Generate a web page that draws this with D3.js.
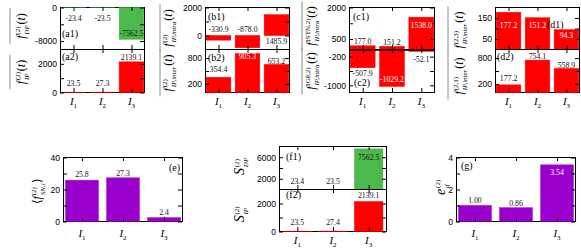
<!DOCTYPE html>
<html>
<head>
<meta charset="utf-8">
<script src="https://cdn.jsdelivr.net/npm/d3@7"></script>
<style>
  body { margin: 0; background: #fff; }
  svg { display: block; }
</style>
</head>
<body>
<svg id="fig" width="581" height="251"></svg>
<script>
// x categories: I_1, I_2, I_3
const intervals = [1, 2, 3];

// (a) time averaged fluxes
const fDP = [-23.4, -23.5, -7562.5];
const fIP = [23.5, 27.3, 2139.1];
// (b) intra / inter population
const fIPintra = [-330.9, -878.0, 1485.9];
const fIPinter = [354.4, 905.3, 653.2];
// (c) STN and GP parts
const fSTN = [177.0, 151.2, 1538.0];
const fGP = [-507.9, -1029.2, -52.1];
// (d) 2->3 and 2->1
const f23 = [177.2, 151.2, 94.3];
const f21 = [177.2, 754.1, 558.9];
// (e)
const fSN = [25.8, 27.3, 2.4];
// (f) entropy production
const sDP = [23.4, 23.5, 7562.5];
const sIP = [23.5, 27.4, 2139.1];
// (g)
const ed = [1.00, 0.86, 3.54];

// y tick positions and the ones that carry a label
const ticksA1 = [-8000, -4000, 0],   labA1 = [-8000, 0];
const ticksA2 = [0, 1000, 2000],     labA2 = [0, 2000];
const ticksB1 = [0, 1000, 2000],     labB1 = [0, 2000];
const ticksB2 = [200, 500, 800],     labB2 = [200, 800];
const ticksC1 = [500, 1250, 2000],   labC1 = [500, 2000];
const ticksC2 = [-1000, -600, -200], labC2 = [-1000, -200];
const ticksD1 = [50, 100, 150],      labD1 = [50, 150];
const ticksD2 = [200, 500, 800],     labD2 = [200, 800];
const ticksE = [0, 10, 20, 30, 40],  labE = [0, 20, 40];
const ticksF1 = [2000, 4000, 6000],  labF1 = [2000, 6000];
const ticksF2 = [0, 1000, 2000],     labF2 = [0, 2000];
const ticksG = [0, 1, 2, 3, 4],      labG = [0, 2, 4];

const GREEN = '#4cb94c', RED = '#ff0000', PURPLE = '#9900cc';
const DARK = '#111', WHITE = '#fff';
const serif = '"Liberation Serif", "Times New Roman", serif';
const sans = '"Liberation Sans", Arial, sans-serif';

const svg = d3.select('#fig');

function textWidth(str, size, style) {
  const t = svg.append('text').attr('font-family', serif)
      .attr('font-size', size).attr('font-style', style).text(str);
  const w = t.node().getComputedTextLength();
  t.remove();
  return w;
}

function subplot(c) {
  const x = d3.scaleLinear().domain(c.xDomain).range([c.left, c.right]);
  const y = d3.scaleLinear().domain(c.yDomain).range([c.bottom, c.top]);
  const bw = x(c.xDomain[0] + c.boxWidth) - x(c.xDomain[0]);
  const g = svg.append('g');

  g.append('rect')
      .attr('x', c.left).attr('y', c.top)
      .attr('width', c.right - c.left).attr('height', c.bottom - c.top)
      .attr('fill', 'none').attr('stroke', '#000');

  g.selectAll('.bar')
      .data(c.values)
    .join('rect')
      .attr('class', 'bar')
      .attr('x', (d, i) => x(intervals[i]) - bw / 2)
      .attr('width', bw)
      .attr('y', d => Math.min(y(d), y(0)))
      .attr('height', d => Math.abs(y(d) - y(0)))
      .attr('fill', c.color)
      .attr('stroke', c.color)
      .attr('stroke-width', 0.5);

  if (c.thickTop) {
    g.append('line').attr('x1', c.left).attr('x2', c.right)
        .attr('y1', c.top + 0.5).attr('y2', c.top + 0.5)
        .attr('stroke', '#000').attr('stroke-width', 1.5);
  }

  const fmt = d => c.tickLabels.includes(d) ? String(d) : '';
  const yAxisL = g.append('g').attr('transform', `translate(${c.left - 0.5},0)`)
      .call(d3.axisLeft(y).tickValues(c.ticks).tickSize(-4).tickPadding(3).tickFormat(fmt));
  yAxisL.attr('font-size', 8.6).attr('font-family', sans);
  const yAxisR = g.append('g').attr('transform', `translate(${c.right - 0.5},0)`)
      .call(d3.axisRight(y).tickValues(c.ticks).tickSize(-4).tickFormat(''));
  const xAxisB = g.append('g').attr('transform', `translate(0,${c.bottom - 0.5})`)
      .call(d3.axisBottom(x).tickValues(intervals).tickSize(-4).tickFormat(''));
  const xAxisT = g.append('g').attr('transform', `translate(0,${c.top - 0.5})`)
      .call(d3.axisTop(x).tickValues(intervals).tickSize(-4).tickFormat(''));
  [yAxisL, yAxisR, xAxisB, xAxisT].forEach(a => a.select('.domain').remove());

  // value labels
  g.selectAll('.val')
      .data(c.values)
    .join('text')
      .attr('class', 'val')
      .attr('x', (d, i) => x(intervals[i]))
      .attr('y', (d, i) => y(d) + c.labelDy[i])
      .attr('text-anchor', 'middle')
      .attr('font-family', serif)
      .attr('font-size', 7.8)
      .attr('fill', (d, i) => c.labelFill[i])
      .text(d => d.toFixed(c.digits || 1));

  // panel tag
  g.append('text')
      .attr('x', c.tag.x).attr('y', c.tag.y)
      .attr('text-anchor', c.tag.anchor || 'start')
      .attr('font-family', serif).attr('font-size', 10)
      .text(c.tag.text);

  // x tick labels I_1..I_3
  if (c.xLabels) {
    const xt = g.selectAll('.xl')
        .data(intervals)
      .join('text')
        .attr('class', 'xl')
        .attr('x', d => x(d))
        .attr('y', c.bottom + c.xLabels)
        .attr('text-anchor', 'middle')
        .attr('font-family', serif);
    xt.append('tspan').attr('font-style', 'italic').attr('font-size', 11).text('I');
    xt.append('tspan').attr('font-size', 7).attr('dy', 3).text(d => d);
  }
}

// rotated axis title like  f^{sup}_{sub}(t)
function mathLabel(s) {
  const size = s.size || 12;
  const g = svg.append('g').attr('transform', `translate(${s.x},${s.y}) rotate(-90)`);
  const t = g.append('text').attr('font-family', serif).attr('font-size', 12).attr('fill', '#000');
  if (s.pre) t.append('tspan').text(s.pre);
  t.append('tspan').attr('font-style', 'italic').attr('font-size', size).text(s.base);
  const supW = textWidth(s.sup, 7, 'normal');
  const subW = textWidth(s.sub, 7, 'italic');
  t.append('tspan').attr('font-size', 7).attr('dx', 0.8).attr('dy', -5.5).text(s.sup);
  t.append('tspan').attr('font-size', 7).attr('font-style', 'italic')
      .attr('dx', -supW).attr('dy', 9).text(s.sub);
  const tail = s.tail || [];
  tail.forEach((p, i) => {
    const ts = t.append('tspan').attr('font-style', p.it ? 'italic' : 'normal').text(p.t);
    if (i === 0) ts.attr('dy', -3.5).attr('dx', Math.max(0, supW - subW) + 0.8);
  });
  const bb = t.node().getBBox();
  t.attr('x', -(bb.x + bb.width / 2));
  if (s.over) {
    g.append('line')
        .attr('x1', -bb.width / 2 - 5).attr('x2', bb.width / 2 + 5)
        .attr('y1', -s.over).attr('y2', -s.over)
        .attr('stroke', '#8c8c8c').attr('stroke-width', 1);
  }
}

const ROW = {top: 7.5, mid: 49.5, bottom: 92.5};
const XD = [0.55, 3.45];

subplot({left: 60.5, right: 144.5, top: ROW.top, bottom: ROW.mid, xDomain: XD, boxWidth: 0.85,
  yDomain: [-10000, 0], values: fDP, color: GREEN, ticks: ticksA1, tickLabels: labA1,
  labelDy: [13.4, 13.4, -3.5], labelFill: [DARK, DARK, DARK], tag: {text: '(a1)', x: 62, y: 37}});
subplot({left: 60.5, right: 144.5, top: ROW.mid, bottom: ROW.bottom, xDomain: XD, boxWidth: 0.85,
  yDomain: [0, 3000], values: fIP, color: RED, ticks: ticksA2, tickLabels: labA2,
  labelDy: [-5.9, -5.9, -1.5], labelFill: [DARK, DARK, DARK], tag: {text: '(a2)', x: 62, y: 60}, xLabels: 12});

subplot({left: 205.5, right: 289.5, top: ROW.top, bottom: ROW.mid, xDomain: XD, boxWidth: 0.85,
  yDomain: [-1000, 2000], values: fIPintra, color: RED, ticks: ticksB1, tickLabels: labB1,
  labelDy: [-8.4, -16.1, 29.2], labelFill: [DARK, DARK, DARK], tag: {text: '(b1)', x: 208, y: 20}});
subplot({left: 205.5, right: 289.5, top: ROW.mid, bottom: ROW.bottom, xDomain: XD, boxWidth: 0.85,
  yDomain: [0, 1000], values: fIPinter, color: RED, ticks: ticksB2, tickLabels: labB2,
  labelDy: [-4.8, 5.9, -0.2], labelFill: [DARK, WHITE, DARK], tag: {text: '(b2)', x: 208, y: 61}, xLabels: 12});

subplot({left: 349.5, right: 434.5, top: ROW.top, bottom: ROW.mid, xDomain: XD, boxWidth: 0.85,
  yDomain: [0, 2000], values: fSTN, color: RED, ticks: ticksC1, tickLabels: labC1,
  labelDy: [-1.3, -1.8, 10.5], labelFill: [DARK, DARK, WHITE], tag: {text: '(c1)', x: 353, y: 20}});
subplot({left: 349.5, right: 434.5, top: ROW.mid, bottom: ROW.bottom, xDomain: XD, boxWidth: 0.85,
  yDomain: [-1200, 0], values: fGP, color: RED, ticks: ticksC2, tickLabels: labC2, thickTop: true,
  labelDy: [8.3, -3.9, 10.5], labelFill: [DARK, WHITE, DARK], tag: {text: '(c2)', x: 354, y: 86}, xLabels: 12});

subplot({left: 495.5, right: 579.5, top: ROW.top, bottom: ROW.mid, xDomain: XD, boxWidth: 0.85,
  yDomain: [0, 200], values: f23, color: RED, ticks: ticksD1, tickLabels: labD1,
  labelDy: [15.9, 10.4, 8.3], labelFill: [WHITE, WHITE, WHITE], tag: {text: '(d1)', x: 547, y: 28}});
subplot({left: 495.5, right: 579.5, top: ROW.mid, bottom: ROW.bottom, xDomain: XD, boxWidth: 0.85,
  yDomain: [0, 1000], values: f21, color: RED, ticks: ticksD2, tickLabels: labD2,
  labelDy: [-4, -0.7, -0.1], labelFill: [DARK, DARK, DARK], tag: {text: '(d2)', x: 497, y: 60}, xLabels: 12});

subplot({left: 63.5, right: 182.5, top: 157.5, bottom: 221.5, xDomain: XD, boxWidth: 0.8,
  yDomain: [0, 40], values: fSN, color: PURPLE, ticks: ticksE, tickLabels: labE,
  labelDy: [-3.2, -1.8, -3], labelFill: [DARK, DARK, DARK], tag: {text: '(e)', x: 180, y: 171, anchor: 'end'}, xLabels: 15});

subplot({left: 279.5, right: 386.5, top: 146.5, bottom: 189.5, xDomain: [0.5, 3.5], boxWidth: 0.8,
  yDomain: [0, 8000], values: sDP, color: GREEN, ticks: ticksF1, tickLabels: labF1,
  labelDy: [-5.2, -5.2, 10.7], labelFill: [DARK, DARK, DARK], tag: {text: '(f1)', x: 286, y: 160}});
subplot({left: 279.5, right: 386.5, top: 189.5, bottom: 231.5, xDomain: [0.5, 3.5], boxWidth: 0.8,
  yDomain: [0, 3000], values: sIP, color: RED, ticks: ticksF2, tickLabels: labF2,
  labelDy: [-5.7, -5.7, -3.2], labelFill: [DARK, DARK, DARK], tag: {text: '(f2)', x: 286, y: 198}, xLabels: 12.5});

subplot({left: 456.5, right: 575.5, top: 157.5, bottom: 221.5, xDomain: XD, boxWidth: 0.8,
  yDomain: [0, 4], values: ed, color: PURPLE, ticks: ticksG, tickLabels: labG, digits: 2,
  labelDy: [-2.4, -2, 10.4], labelFill: [DARK, DARK, WHITE], tag: {text: '(g)', x: 461, y: 169}, xLabels: 15});

// axis titles
const tT = [{t: '('}, {t: 't', it: true}, {t: ')'}];
mathLabel({x: 25, y: 26, base: 'f', sup: '(2)', sub: 'DP', tail: tT, over: 15});
mathLabel({x: 25, y: 72, base: 'f', sup: '(2)', sub: 'IP', tail: tT, over: 15});
mathLabel({x: 172, y: 28, base: 'f', sup: '(2)', sub: 'IP,intra', tail: tT, over: 12});
mathLabel({x: 172, y: 73, base: 'f', sup: '(2)', sub: 'IP,inter', tail: tT, over: 12});
mathLabel({x: 315, y: 26, base: 'f', sup: '(STN,2)', sub: 'IP,intra', tail: tT, over: 13});
mathLabel({x: 315, y: 71, base: 'f', sup: '(GP,2)', sub: 'IP,intra', tail: tT, over: 13});
mathLabel({x: 463, y: 30, base: 'f', sup: '(2,3)', sub: 'IP,inter', tail: tT, over: 15});
mathLabel({x: 463, y: 76, base: 'f', sup: '(2,1)', sub: 'IP,inter', tail: tT, over: 15});
mathLabel({x: 41, y: 191, pre: '\u27E8', base: 'f', sup: '(2)', sub: 'SN,i', tail: [{t: '\u27E9'}]});
mathLabel({x: 244, y: 166, base: 'S', sup: '(2)', sub: 'DP', size: 14});
mathLabel({x: 244, y: 214, base: 'S', sup: '(2)', sub: 'IP', size: 14});
mathLabel({x: 445, y: 187, base: 'e', sup: '(2)', sub: 'd', size: 14});
</script>
</body>
</html>
